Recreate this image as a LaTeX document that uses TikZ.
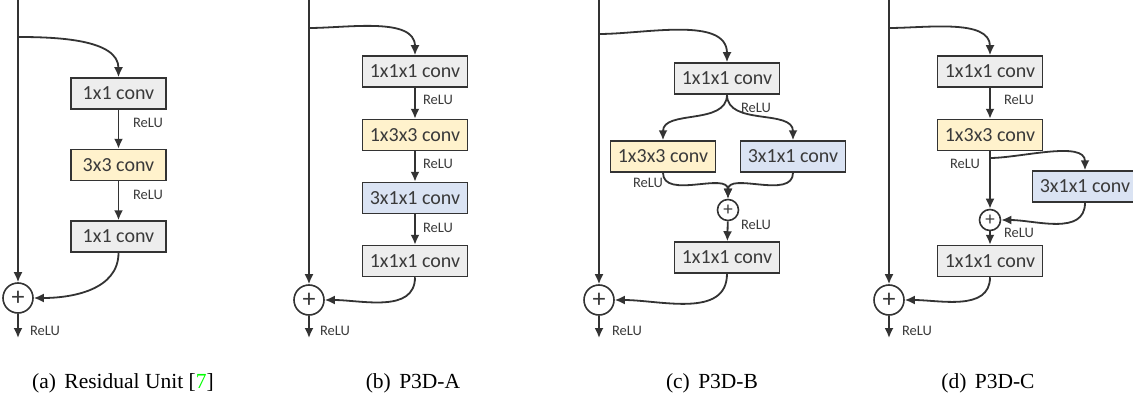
\documentclass[tikz,border=0pt]{standalone}
\usepackage{fontspec}
\setmainfont{Liberation Serif}
\newfontfamily\boxfont{Carlito}
\usepackage{xcolor}
\usetikzlibrary{arrows.meta,positioning}
\definecolor{linegray}{HTML}{333333}
\definecolor{textgray}{HTML}{3A3A3A}
\definecolor{convgray}{HTML}{EDEDED}
\definecolor{convyellow}{HTML}{FFF2CC}
\definecolor{convblue}{HTML}{DAE3F3}
\newcommand{\BW}{105pt}
\newcommand{\BH}{31pt}
\newcommand{\Bot}{338}

\tikzset{
  conv/.style={draw=linegray, line width=1.5pt, minimum width=\BW, minimum height=\BH,
    inner sep=0pt, text=textgray, font=\boxfont\fontsize{20}{24}\selectfont},
  gconv/.style={conv, fill=convgray},
  yconv/.style={conv, fill=convyellow},
  bconv/.style={conv, fill=convblue},
  sumnode/.style={circle, draw=linegray, line width=1.6pt, minimum size=30pt, inner sep=0pt,
    fill=white, text=textgray, font=\boxfont\fontsize{26}{28}\selectfont},
  smallsum/.style={sumnode, minimum size=21pt, font=\boxfont\fontsize{19}{20}\selectfont},
  relu/.style={text=textgray, font=\boxfont\fontsize{14.5}{17}\selectfont},
  flow/.style={draw=linegray, line width=1.8pt, -{Latex[length=10pt,width=9pt]}},
  capt/.style={font=\fontsize{21.5}{26}\selectfont}
}

\begin{document}
\begin{tikzpicture}[x=1pt, y=-1pt]
    \useasboundingbox (0,0) rectangle (1133,396);

    % (a) residual unit
    \path (18,0) coordinate (a-top);
    \path (18,37) coordinate (a-br);
    \path (18,\Bot) coordinate (a-out);
    \path (118.5,93.5) node (a-c1) [gconv, minimum width=95pt]{1x1 conv};
    \path (118.5,165) node (a-c2) [yconv, minimum width=95pt]{3x3 conv};
    \path (118.5,236.5) node (a-c3) [gconv, minimum width=95pt]{1x1 conv};
    \path (18,298) node (a-sum) [sumnode]{+};
    \path (148,123) node (a-r1) [relu]{ReLU};
    \path (148,195) node (a-r2) [relu]{ReLU};
    \path (45,331) node (a-r3) [relu]{ReLU};

    \draw [flow] (a-top) -- (a-sum);
    \draw [flow] (a-br) to[out=0, in=90, looseness=0.9] (a-c1.north);
    \draw [flow] (a-c1) -- (a-c2);
    \draw [flow] (a-c2) -- (a-c3);
    \draw [flow] (a-c3.south) to[out=-90, in=0] (a-sum.east);
    \draw [flow] (a-sum) -- (a-out);
    \path (123,383) node (a-cap) [capt]{(a)\hspace{3pt} Residual Unit [\textcolor{green}{7}]};

    % (b) P3D-A
    \path (309,0) coordinate (b-top);
    \path (309,28) coordinate (b-br);
    \path (309,\Bot) coordinate (b-out);
    \path (415,71.5) node (b-c1) [gconv]{1x1x1 conv};
    \path (415,135) node (b-c2) [yconv]{1x3x3 conv};
    \path (415,198) node (b-c3) [bconv]{3x1x1 conv};
    \path (415,261) node (b-c4) [gconv]{1x1x1 conv};
    \path (309,300) node (b-sum) [sumnode]{+};
    \path (438,100) node (b-r1) [relu]{ReLU};
    \path (438,164) node (b-r2) [relu]{ReLU};
    \path (438,228) node (b-r3) [relu]{ReLU};
    \path (335,331) node (b-r4) [relu]{ReLU};

    \draw [flow] (b-top) -- (b-sum);
    \draw [flow] (b-br) to[out=0, in=90, looseness=0.9] (b-c1.north);
    \draw [flow] (b-c1) -- (b-c2);
    \draw [flow] (b-c2) -- (b-c3);
    \draw [flow] (b-c3) -- (b-c4);
    \draw [flow] (b-c4.south) to[out=-90, in=0] (b-sum.east);
    \draw [flow] (b-sum) -- (b-out);
    \path (413,383) node (b-cap) [capt]{(b)\hspace{3pt} P3D-A};

    % (c) P3D-B
    \path (599,0) coordinate (c-top);
    \path (599,34) coordinate (c-br);
    \path (599,\Bot) coordinate (c-out);
    \path (727,78.5) node (c-c1) [gconv]{1x1x1 conv};
    \path (663,156.5) node (c-c2) [yconv]{1x3x3 conv};
    \path (793,156.5) node (c-c3) [bconv]{3x1x1 conv};
    \path (728,210) node (c-add) [smallsum]{+};
    \path (727,257.5) node (c-c4) [gconv]{1x1x1 conv};
    \path (599,300) node (c-sum) [sumnode]{+};
    \path (756,108) node (c-r1) [relu]{ReLU};
    \path (648,183) node (c-r2) [relu]{ReLU};
    \path (756,225) node (c-r3) [relu]{ReLU};
    \path (627,331) node (c-r4) [relu]{ReLU};

    \draw [flow] (c-top) -- (c-sum);
    \draw [flow] (c-br) to[out=0, in=90, looseness=0.9] (c-c1.north);
    \draw [flow] (c-c1.south) to[out=-90, in=90] (c-c2.north);
    \draw [flow] (c-c1.south) to[out=-90, in=90] (c-c3.north);
    \draw [flow] (c-c2.south) to[out=-90, in=90] (c-add.north);
    \draw [flow] (c-c3.south) to[out=-90, in=90] (c-add.north);
    \draw [flow] (c-add) -- (c-c4);
    \draw [flow] (c-c4.south) to[out=-90, in=0] (c-sum.east);
    \draw [flow] (c-sum) -- (c-out);
    \path (712,383) node (c-cap) [capt]{(c)\hspace{3pt} P3D-B};

    % (d) P3D-C
    \path (889,0) coordinate (d-top);
    \path (889,28) coordinate (d-br);
    \path (889,\Bot) coordinate (d-out);
    \path (990,71.5) node (d-c1) [gconv]{1x1x1 conv};
    \path (990,135) node (d-c2) [yconv]{1x3x3 conv};
    \path (990,158) coordinate (d-fork);
    \path (1085,186.5) node (d-c3) [bconv]{3x1x1 conv};
    \path (990,220) node (d-add) [smallsum]{+};
    \path (990,261) node (d-c4) [gconv]{1x1x1 conv};
    \path (889,300) node (d-sum) [sumnode]{+};
    \path (1019,100) node (d-r1) [relu]{ReLU};
    \path (965,164) node (d-r2) [relu]{ReLU};
    \path (1019,233) node (d-r3) [relu]{ReLU};
    \path (917,331) node (d-r4) [relu]{ReLU};

    \draw [flow] (d-top) -- (d-sum);
    \draw [flow] (d-br) to[out=0, in=90, looseness=0.9] (d-c1.north);
    \draw [flow] (d-c1) -- (d-c2);
    \draw [flow] (d-c2) -- (d-add);
    \draw [flow] (d-fork) to[out=0, in=90, looseness=0.8] (d-c3.north);
    \draw [flow] (d-c3.south) to[out=-90, in=0] (d-add.east);
    \draw [flow] (d-add) -- (d-c4);
    \draw [flow] (d-c4.south) to[out=-90, in=0] (d-sum.east);
    \draw [flow] (d-sum) -- (d-out);
    \path (988,383) node (d-cap) [capt]{(d)\hspace{3pt} P3D-C};
\end{tikzpicture}
\end{document}
